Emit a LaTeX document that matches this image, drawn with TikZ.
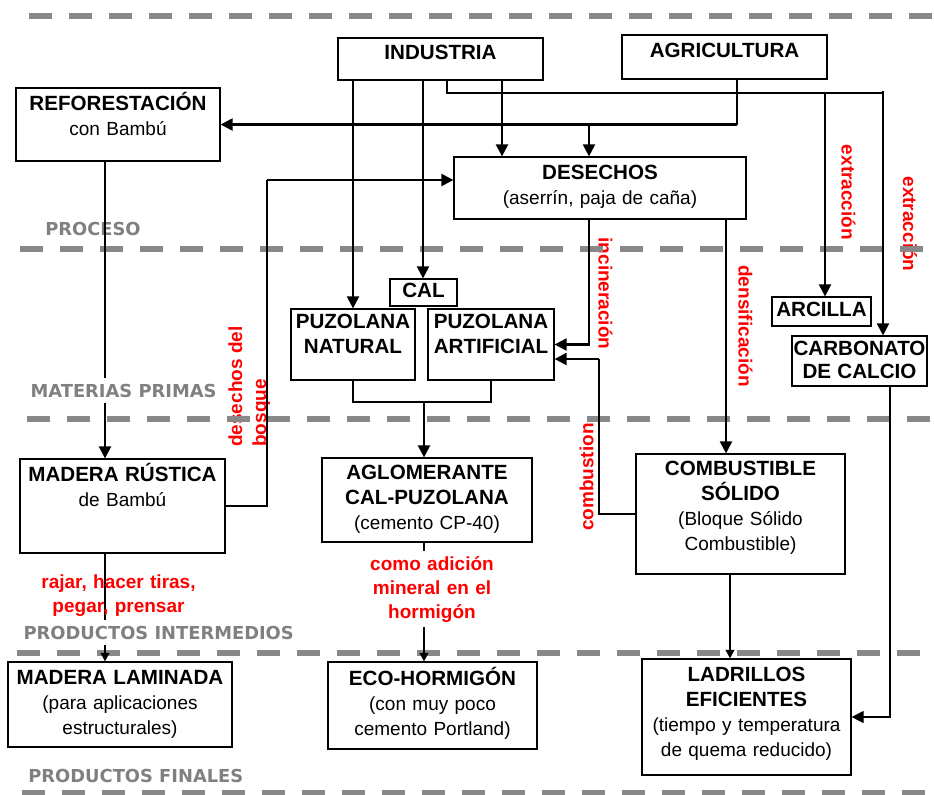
\documentclass[tikz,border=0pt]{standalone}
\usepackage{fontspec}
\setmainfont{Liberation Sans}
\newfontfamily\secfont{DejaVu Sans}
\usetikzlibrary{arrows.meta,fit}
\definecolor{dashgray}{RGB}{136,136,136}
\definecolor{labgray}{RGB}{128,128,128}
\definecolor{lred}{RGB}{255,0,0}
\newcommand\ttlfont{\bfseries\fontsize{15.45}{18.75}\selectfont}
\begin{document}
\begin{tikzpicture}[x=0.75pt,y=-0.75pt,
  box/.style={draw=black, line width=0.9pt, inner sep=0pt, fill=white},
  lbl/.style={text width=200pt, align=center, inner sep=0pt, anchor=base, font=\fontsize{14.25}{18.75}\selectfont},
  sepline/.style={draw=dashgray, line width=3.9pt, dash pattern=on 17.5pt off 12.5pt},
  seclab/.style={text=labgray, font=\secfont\bfseries\fontsize{13.4}{15}\selectfont, inner sep=0pt, anchor=base west},
  rl/.style={text=lred, font=\bfseries\fontsize{14.25}{18}\selectfont, inner sep=0pt},
  thk/.style={line width=1.6pt},
  thn/.style={line width=0.8pt},
  arr/.style={-{Triangle[length=9pt,width=9pt]}},
  sarr/.style={-{Triangle[length=6.5pt,width=6.5pt]}}
]
\useasboundingbox (0,0) rectangle (934,794);

% red rotated labels (under the dashed lines)
\node[rl, rotate=90, anchor=north west, align=left] (l-bos) at (228,447) {desechos del\\bosque};
\node[rl, rotate=-90] (l-inc) at (605.5,293.5) {incineración};
\node[rl, rotate=-90] (l-den) at (745.5,326) {densificación};
\node[rl, rotate=-90] (l-ex1) at (848.5,192.5) {extracción};
\node[rl, rotate=-90] (l-ex2) at (910,224) {extracción};
\node[rl, rotate=90] (l-com) at (586.5,477) {combustion};

% separators
\coordinate (s1a) at (29,16);  \coordinate (s1b) at (934,16);
\coordinate (s2a) at (20,249); \coordinate (s2b) at (934,249);
\coordinate (s3a) at (27,419); \coordinate (s3b) at (934,419);
\coordinate (s4a) at (17,653); \coordinate (s4b) at (934,653);
\coordinate (s5a) at (22,793); \coordinate (s5b) at (934,793);
\draw[sepline] (s1a) -- (s1b);
\draw[sepline] (s2a) -- (s2b);
\draw[sepline] (s3a) -- (s3b);
\draw[sepline] (s4a) -- (s4b);
\draw[sepline] (s5a) -- (s5b);

\node[seclab] (sec-pro) at (45,235) {PROCESO};
\node[seclab] (sec-fin) at (28,782) {PRODUCTOS FINALES};

% boxes
\node[box, fit={(338,38)(543,80)}] (ind) {};
\node[box, fit={(622,35)(827,79)}] (agr) {};
\node[box, fit={(16,88)(220,161)}] (ref) {};
\node[box, fit={(454,157)(746,219)}] (des) {};
\node[box, fit={(390,279)(457,306)}] (cal) {};
\node[box, fit={(291,309)(415,380)}] (pn) {};
\node[box, fit={(428,309)(554,380)}] (pa) {};
\node[box, fit={(772,297)(871,326)}] (arc) {};
\node[box, fit={(792,336)(927,386)}] (carb) {};
\node[box, fit={(20,459)(225,553)}] (mr) {};
\node[box, fit={(322,458)(532,542)}] (agl) {};
\node[box, fit={(636,454)(845,574)}] (comb) {};
\node[box, fit={(8,662)(232,747)}] (ml) {};
\node[box, fit={(328,662)(537,749)}] (eco) {};
\node[box, fit={(642,659)(851,775)}] (lad) {};

% helper coordinates
\coordinate (x447) at (447,93);
\coordinate (x883) at (883,91);
\coordinate (x825) at (825,93);
\coordinate (x423) at (423,0);
\coordinate (x353) at (353,0);
\coordinate (x502) at (502,0);
\coordinate (x737) at (737,0);
\coordinate (x589) at (589,0);
\coordinate (x105) at (105,0);
\coordinate (x726) at (726,0);
\coordinate (x730) at (730,0);
\coordinate (x890) at (890,0);
\coordinate (j1) at (267,180);
\coordinate (j2) at (599,359);
\coordinate (m1) at (424,402);

% connectors
\draw[thk,arr] (ind.south -| x353) -- (pn.north -| x353);
\draw[thk,arr] (ind.south -| x423) -- (cal.north -| x423);
\draw[thk,arr] (ind.south -| x502) -- (des.north -| x502);
\draw[thn] (ind.south -| x447) -- (x447) -- (x447 -| x883);
\draw[thk,arr] (x883) -- (carb.north -| x883);
\draw[thk,arr] (x825) -- (arc.north -| x825);
\draw[thn] (agr.south -| x737) -- (x737 |- ref.east);
\draw[thk,arr] (x737 |- ref.east) -- (ref.east);
\draw[thk,arr] (x589 |- ref.east) -- (des.north -| x589);
\draw[thk,arr] (ref.south -| x105) -- (mr.north -| x105);
\draw[thn] (mr.east) -| (j1);
\draw[thk,arr] (j1) -- (j1 -| des.west);
\draw[thk,arr] (des.south -| x589) |- (pa.east);
\draw[thn] (comb.west) -| (j2);
\draw[thk,arr] (j2) -- (j2 -| pa.east);
\draw[thk,arr] (des.south -| x726) -- (comb.north -| x726);
\draw[thn] (pn.south) |- (m1) -| (pa.south);
\draw[thk,arr] (m1) -- (agl.north -| m1);
\draw[thk,sarr] (agl.south -| m1) -- (eco.north -| m1);
\draw[thk,sarr] (mr.south -| x105) -- (ml.north -| x105);
\draw[thk,sarr] (comb.south -| x730) -- (lad.north -| x730);
\draw[thn,arr] (carb.south -| x890) |- (lad.east);

% section labels with white background
\node[seclab, fill=white, inner xsep=1pt, inner ysep=4pt] (sec-mat) at (29,397) {MATERIAS PRIMAS};
\node[seclab, fill=white, inner xsep=1pt, inner ysep=4pt] (sec-int) at (22,639) {PRODUCTOS INTERMEDIOS};

% red horizontal labels
\node[rl, text width=150pt, align=center, anchor=base] (l-raj) at (118.5,588) {rajar, hacer tiras,\\pegar, prensar};
\node[rl, text width=125pt, align=center, anchor=base, fill=white, inner ysep=4pt] (l-adi) at (432,570) {como adición\\mineral en el\\hormigón};

% box texts
\node[lbl] (ind-t) at (440.5,59) {\ttlfont INDUSTRIA};
\node[lbl] (agr-t) at (724.5,57) {\ttlfont AGRICULTURA};
\node[lbl] (ref-t) at (118,110) {{\ttlfont REFORESTACIÓN}\\con Bambú};
\node[lbl] (des-t) at (600,179) {{\ttlfont DESECHOS}\\(aserrín, paja de caña)};
\node[lbl] (cal-t) at (423.5,297) {\ttlfont CAL};
\node[lbl] (pn-t) at (353,328) {\ttlfont PUZOLANA\\NATURAL};
\node[lbl] (pa-t) at (491,328) {\ttlfont PUZOLANA\\ARTIFICIAL};
\node[lbl] (arc-t) at (821.5,316) {\ttlfont ARCILLA};
\node[lbl] (carb-t) at (859.5,355) {\ttlfont CARBONATO\\[-1.5pt]DE CALCIO};
\node[lbl] (mr-t) at (122.5,481) {{\ttlfont MADERA RÚSTICA}\\de Bambú};
\node[lbl] (agl-t) at (427,479) {{\ttlfont AGLOMERANTE\\CAL-PUZOLANA}\\(cemento CP-40)};
\node[lbl] (comb-t) at (740.5,475) {{\ttlfont COMBUSTIBLE\\SÓLIDO}\\(Bloque Sólido\\Combustible)};
\node[lbl] (ml-t) at (120,684) {{\ttlfont MADERA LAMINADA}\\(para aplicaciones\\estructurales)};
\node[lbl] (eco-t) at (432.5,685) {{\ttlfont ECO-HORMIGÓN}\\(con muy poco\\cemento Portland)};
\node[lbl] (lad-t) at (746.5,681) {{\ttlfont LADRILLOS\\EFICIENTES}\\(tiempo y temperatura\\de quema reducido)};
\end{tikzpicture}
\end{document}
